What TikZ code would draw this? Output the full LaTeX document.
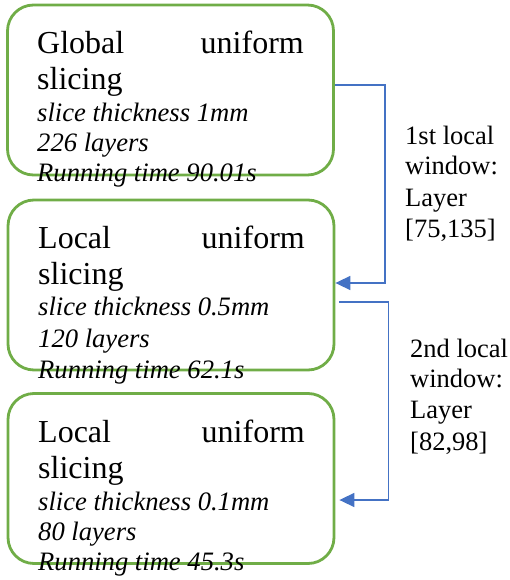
\documentclass[tikz,border=0pt]{standalone}
\usepackage{fontspec}
\setmainfont{Liberation Serif}
\usetikzlibrary{arrows.meta}
\definecolor{boxgreen}{HTML}{70AD47}
\definecolor{linkblue}{HTML}{4472C4}
\tikzset{
  box/.style={draw=boxgreen, line width=2.8pt, rounded corners=26pt, minimum width=326pt, minimum height=170pt, inner sep=0pt},
  big/.style={inner sep=0pt, anchor=base west, font=\fontsize{32}{36}\selectfont},
  bigr/.style={inner sep=0pt, anchor=base east, font=\fontsize{32}{36}\selectfont},
  ital/.style={inner sep=0pt, anchor=base west, font=\fontsize{26.6}{30}\selectfont\itshape},
  lab/.style={inner sep=0pt, anchor=base west, font=\fontsize{26.5}{30}\selectfont},
  conn/.style={draw=linkblue, line width=1.6pt, -{Triangle[length=15pt,width=14pt]}}
}
\begin{document}
\begin{tikzpicture}[x=1pt,y=-1pt]
\useasboundingbox (0,0) rectangle (509,580);
% boxes
\node (b1) [box] at (170.5,90) {};
\node (b2) [box] at (171,285) {};
\node (b3) [box] at (171,478.5) {};
% box 1 text
\node (t1a) [big] at (37,54) {Global};
\node (t1b) [bigr] at (304,54) {uniform};
\node (t1c) [big] at (37,90) {slicing};
\node (t1d) [ital] at (37,122) {slice thickness 1mm};
\node (t1e) [ital] at (37,152) {226 layers};
\node (t1f) [ital] at (37,182) {Running time 90.01s};
% box 2 text
\node (t2a) [big] at (38,248) {Local};
\node (t2b) [bigr] at (305,248) {uniform};
\node (t2c) [big] at (38,284) {slicing};
\node (t2d) [ital] at (38,315) {slice thickness 0.5mm};
\node (t2e) [ital] at (38,347) {120 layers};
\node (t2f) [ital] at (38,378) {Running time 62.1s};
% box 3 text
\node (t3a) [big] at (38,442) {Local};
\node (t3b) [bigr] at (305,442) {uniform};
\node (t3c) [big] at (38,478) {slicing};
\node (t3d) [ital] at (38,510) {slice thickness 0.1mm};
\node (t3e) [ital] at (38,540) {80 layers};
\node (t3f) [ital] at (38,570) {Running time 45.3s};
% labels
\node (l1a) [lab] at (405,145) {1st local};
\node (l1b) [lab] at (405,175) {window:};
\node (l1c) [lab] at (405,206) {Layer};
\node (l1d) [lab] at (405,237) {[75,135]};
\node (l2a) [lab] at (410,357) {2nd local};
\node (l2b) [lab] at (410,387) {window:};
\node (l2c) [lab] at (410,418) {Layer};
\node (l2d) [lab] at (410,450) {[82,98]};
% connectors
\draw[conn] ([yshift=5pt]b1.east) -- ++(50,0) |- ([yshift=2pt]b2.east);
\draw[conn] ([xshift=4pt,yshift=-17pt]b2.east) -- ++(49,0) |- ([xshift=4pt,yshift=-21.5pt]b3.east);
\end{tikzpicture}
\end{document}
